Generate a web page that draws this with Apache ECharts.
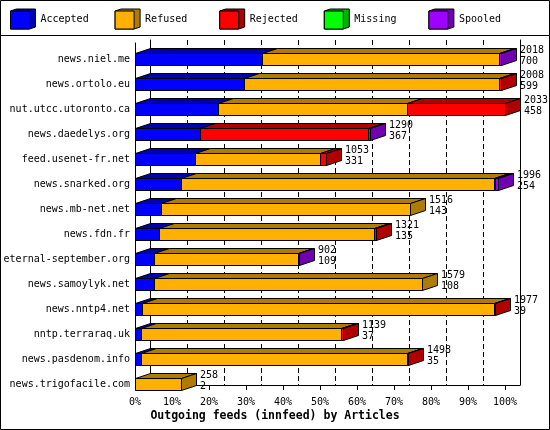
<!DOCTYPE html>
<html>
<head>
<meta charset="utf-8">
<script src="https://cdn.jsdelivr.net/npm/echarts@6/dist/echarts.min.js"></script>
<style>html,body{margin:0;padding:0;background:#fff}#c{width:550px;height:430px}</style>
</head>
<body>
<div id="c"></div>
<script>
// ---- data (percent of articles per feed) ----
const hosts = ['news.niel.me','news.ortolo.eu','nut.utcc.utoronto.ca','news.daedelys.org','feed.usenet-fr.net','news.snarked.org','news.mb-net.net','news.fdn.fr','eternal-september.org','news.samoylyk.net','news.nntp4.net','nntp.terraraq.uk','news.pasdenom.info','news.trigofacile.com'];
const accepted = [34.2, 29.5, 22.4, 17.7, 16.1, 12.3, 7.0, 6.5, 5.1, 5.1, 1.9, 1.6, 1.6, 0];
const refused  = [64.1, 69.0, 51.0, 0, 34.0, 84.6, 67.2, 58.2, 38.9, 72.5, 95.0, 54.2, 71.9, 12.3];
const rejected = [0, 0.3, 26.5, 45.4, 1.4, 0.5, 0, 0.3, 0, 0, 0.3, 0.3, 0.3, 0];
const missing  = [0, 0, 0, 0, 0, 0, 0, 0, 0, 0, 0, 0, 0, 0];
const spooled  = [0.7, 0, 0, 0.3, 0, 0.6, 0, 0, 0.3, 0, 0, 0, 0, 0];
const labelTop    = [2018, 2008, 2033, 1290, 1053, 1996, 1516, 1321, 902, 1579, 1977, 1139, 1498, 258];
const labelBottom = [700, 599, 458, 367, 331, 254, 143, 135, 109, 108, 39, 37, 35, 2];
const tickValues = [0, 10, 20, 30, 40, 50, 60, 70, 80, 90, 100];
const seriesNames = ['Accepted', 'Refused', 'Rejected', 'Missing', 'Spooled'];
const frontColors = ['#0000ff', '#ffb000', '#ff0000', '#00ff00', '#a000ff'];
const darkColors  = ['#0000b0', '#b07c00', '#b00000', '#00b000', '#7000b0'];

const FONT = 'DejaVu Sans Mono';
const DX = 15, DY = 5;
const values = [accepted, refused, rejected, missing, spooled];

// last non-zero segment per row gets the side face
const lastSeg = hosts.map((h, r) => {
  let last = -1;
  values.forEach((arr, k) => { if (arr[r] > 0) last = k; });
  return last;
});
const totals = hosts.map((h, r) => values.reduce((s, arr) => s + arr[r], 0));

function segData(k) {
  return hosts.map((h, r) => {
    let start = 0;
    for (let j = 0; j < k; j++) start += values[j][r];
    return [start, start + values[k][r], r, lastSeg[r] === k ? 1 : 0];
  });
}

function renderSeg(k) {
  return function (params, api) {
    const x0v = api.value(0), x1v = api.value(1), row = api.value(2), side = api.value(3);
    if (x1v - x0v <= 0) return null;
    const p0 = api.coord([x0v, row]);
    const p1 = api.coord([x1v, row]);
    const band = api.size([0, 1])[1];
    const h = band * 0.5;
    const xa = Math.round(p0[0]) + 0.5;
    const xb = Math.max(xa, Math.round(p1[0]) + 0.5);
    const yt = Math.round(p0[1] - h / 2) + 0.5;
    const yb = Math.round(p0[1] + h / 2) - 0.5;
    const stroke = { stroke: '#000', lineWidth: 1 };
    const children = [
      { type: 'polygon', shape: { points: [[xa, yt], [xa + DX, yt - DY], [xb + DX, yt - DY], [xb, yt]] },
        style: Object.assign({ fill: darkColors[k] }, stroke) },
      { type: 'rect', shape: { x: xa, y: yt, width: xb - xa, height: yb - yt },
        style: Object.assign({ fill: frontColors[k] }, stroke) }
    ];
    if (side) {
      children.push({ type: 'polygon', shape: { points: [[xb, yt], [xb + DX, yt - DY], [xb + DX, yb - DY], [xb, yb]] },
        style: Object.assign({ fill: darkColors[k] }, stroke) });
    }
    return { type: 'group', children };
  };
}

const series = seriesNames.map((name, k) => ({
  name, type: 'custom', xAxisIndex: 0, yAxisIndex: 0,
  itemStyle: { color: frontColors[k] },
  encode: { x: [0, 1], y: 2 },
  data: segData(k),
  renderItem: renderSeg(k),
  silent: true
}));

series.push({
  name: 'labels', type: 'custom', xAxisIndex: 0, yAxisIndex: 0,
  encode: { x: 0, y: 1 },
  data: hosts.map((h, r) => [totals[r], r, labelTop[r], labelBottom[r]]),
  renderItem: function (params, api) {
    const p = api.coord([api.value(0), api.value(1)]);
    return { type: 'text', x: Math.round(p[0]) + DX + 4, y: p[1] - 4,
      style: { text: api.value(2) + '\n' + api.value(3), font: '10px "' + FONT + '"', fill: '#000',
        verticalAlign: 'middle', align: 'left', lineHeight: 11 } };
  },
  silent: true, z: 5
});

const legends = [];
seriesNames.forEach((name, k) => {
  const left = 10 + k * 104.6;
  legends.push({
    left: left, top: 8.5, orient: 'horizontal', selectedMode: false, padding: 0,
    icon: 'path://M0,2L6,0L25,0L25,18L19,20L0,20Z', itemWidth: 25, itemHeight: 20,
    data: [{ name, itemStyle: { color: darkColors[k], borderColor: '#000', borderWidth: 1 } }],
    textStyle: { fontFamily: FONT, fontSize: 10, color: '#000' }
  });
  legends.push({
    left: left, top: 10.5, orient: 'horizontal', selectedMode: false, padding: 0,
    icon: 'rect', itemWidth: 19, itemHeight: 18,
    data: [{ name, itemStyle: { color: frontColors[k], borderColor: '#000', borderWidth: 1 } }],
    formatter: function () { return ''; },
    textStyle: { fontFamily: FONT, fontSize: 10, color: '#000' }
  });
});

const option = {
  animation: false,
  backgroundColor: '#fff',
  title: { text: 'Outgoing feeds (innfeed) by Articles', left: 'center', top: 410.5, padding: 0,
    textStyle: { fontFamily: FONT, fontWeight: 'bold', fontSize: 11.5, color: '#000' } },
  legend: legends,
  graphic: [
    { type: 'rect', shape: { x: 0.5, y: 0.5, width: 549, height: 429 }, style: { fill: 'none', stroke: '#000', lineWidth: 1 }, z: 100, silent: true },
    { type: 'line', shape: { x1: 0, y1: 35.5, x2: 550, y2: 35.5 }, style: { stroke: '#000', lineWidth: 1 }, z: 100, silent: true }
  ],
  grid: [
    { left: 135, right: 45, top: 47, height: 350 },          // bars
    { left: 135, right: 45, top: 43, bottom: 40 },           // front frame
    { left: 150, right: 30, top: 40, bottom: 45 }            // back plane
  ],
  xAxis: [
    { gridIndex: 0, type: 'value', min: 0, max: 100, show: false },
    { gridIndex: 1, type: 'value', min: 0, max: 100, interval: 10,
      axisLine: { show: false, onZero: false },
      axisTick: { show: true, inside: true, length: 5, lineStyle: { color: '#000' } },
      splitLine: { show: false },
      axisLabel: { show: true, margin: 7, color: '#000', fontFamily: FONT, fontSize: 10,
        formatter: function (v) { return tickValues.indexOf(v) >= 0 ? v + '%' : ''; } } },
    { gridIndex: 2, type: 'value', min: 0, max: 100, interval: 10,
      axisLine: { show: true, onZero: false, lineStyle: { color: '#000', width: 1 } },
      axisTick: { show: false }, axisLabel: { show: false },
      splitLine: { show: true, lineStyle: { color: '#000', width: 1, type: [5, 3] } } }
  ],
  yAxis: [
    { gridIndex: 0, type: 'category', data: hosts, inverse: true,
      axisLine: { show: false }, axisTick: { show: false }, splitLine: { show: false },
      axisLabel: { margin: 5, color: '#000', fontFamily: FONT, fontSize: 10 } },
    { gridIndex: 1, type: 'value', min: 0, max: 1,
      axisLine: { show: true, onZero: false, lineStyle: { color: '#000', width: 1 } },
      axisTick: { show: false }, axisLabel: { show: false }, splitLine: { show: false } },
    { gridIndex: 2, type: 'value', min: 0, max: 1, position: 'left',
      axisLine: { show: true, onZero: false, lineStyle: { color: '#000', width: 1 } },
      axisTick: { show: false }, axisLabel: { show: false }, splitLine: { show: false } },
    { gridIndex: 2, type: 'value', min: 0, max: 1, position: 'right',
      axisLine: { show: true, onZero: false, lineStyle: { color: '#000', width: 1 } },
      axisTick: { show: false }, axisLabel: { show: false }, splitLine: { show: false } }
  ],
  series: series
};

const chart = echarts.init(document.getElementById('c'), null, { renderer: 'canvas' });
chart.setOption(option);
</script>
</body>
</html>
